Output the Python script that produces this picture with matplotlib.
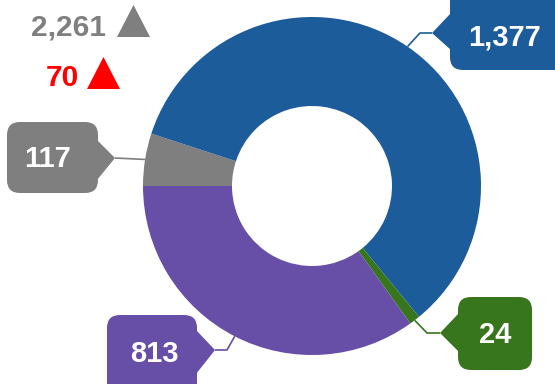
import matplotlib
matplotlib.use("Agg")
import matplotlib.pyplot as plt
import numpy as np
from matplotlib.patches import FancyBboxPatch, Polygon

plt.rcParams['font.family'] = ['Liberation Sans', 'DejaVu Sans']

# slices, clockwise from the left edge
labels = ['117', '1,377', '24', '813']
values = [117, 1377, 24, 813]
colors = ['#7f7f7f', '#1d5c9a', '#38761d', '#674ea7']

# headline numbers in the corner
total_text = '2,261'
change_text = '70'

# callout boxes in pixel space: rect, notch side, notch y-range, tip, elbow, text centre
boxes = [
    dict(rect=(7, 122, 98, 193), side='right', notch=(140, 180), tip=(115, 158), elbow=None, txt=(48, 159)),
    dict(rect=(450, -12, 570, 70), side='left', notch=(13, 50), tip=(432, 33), elbow=(420, 33), txt=(505, 37)),
    dict(rect=(458, 297, 532, 370), side='left', notch=(313, 352), tip=(440, 333), elbow=(427, 333), txt=(495, 335)),
    dict(rect=(107, 315, 197, 400), side='right', notch=(330, 374), tip=(215, 350), elbow=(227, 350), txt=(154, 354)),
]

cx, cy = 312, 186
r_out, r_in = 169, 80

fig = plt.figure(figsize=(5.55, 3.84), dpi=100)
ax = fig.add_axes([0, 0, 1, 1])

wedges, _ = ax.pie(values, colors=colors, startangle=180, counterclock=True,
                   center=(cx, cy), radius=r_out,
                   wedgeprops=dict(width=r_out - r_in, linewidth=0))

ax.set_xlim(0, 555)
ax.set_ylim(384, 0)
ax.set_aspect('equal')
ax.axis('off')

for w, lab, col, b in zip(wedges, labels, colors, boxes):
    # leader starts at the middle of the wedge's outer rim
    mid = np.deg2rad((w.theta1 + w.theta2) / 2)
    ax_pt = (cx + r_out * np.cos(mid), cy + r_out * np.sin(mid))
    pts = [ax_pt] + ([b['elbow']] if b['elbow'] else []) + [b['tip']]
    xs, ys = zip(*pts)
    ax.plot(xs, ys, color=col, lw=1.2, zorder=2, solid_capstyle='butt')

    x0, y0, x1, y1 = b['rect']
    ax.add_patch(FancyBboxPatch((x0, y0), x1 - x0, y1 - y0,
                                boxstyle='round,pad=0,rounding_size=13',
                                fc=col, ec='none', zorder=3))
    edge = x1 - 1 if b['side'] == 'right' else x0 + 1
    ax.add_patch(Polygon([(edge, b['notch'][0]), b['tip'], (edge, b['notch'][1])],
                         closed=True, fc=col, ec='none', zorder=3))
    ax.text(b['txt'][0], b['txt'][1], lab, color='white', fontsize=21, fontweight='bold',
            ha='center', va='center', zorder=4)

# headline figures with up-arrows
ax.text(106, 27, total_text, color='#7f7f7f', fontsize=21.5, fontweight='bold',
        ha='right', va='center')
ax.add_patch(Polygon([(117, 37), (133.5, 5), (150, 37)], closed=True, fc='#7f7f7f', ec='none'))
ax.text(79, 78, change_text, color='#ff0000', fontsize=21.5, fontweight='bold',
        ha='right', va='center')
ax.add_patch(Polygon([(87, 89), (103.5, 57), (120, 89)], closed=True, fc='#ff0000', ec='none'))

fig.savefig('out.png', dpi=100)
